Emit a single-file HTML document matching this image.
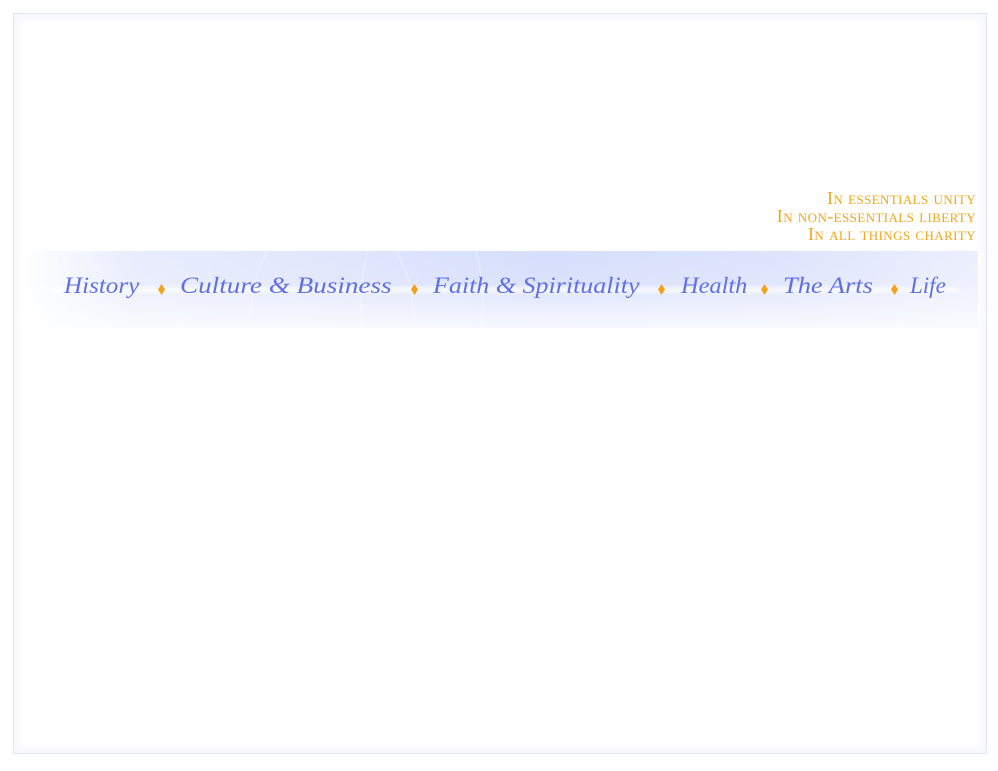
<!DOCTYPE html>
<html><head><meta charset="utf-8"><style>
html,body{margin:0;padding:0;background:#fff;width:998px;height:771px;overflow:hidden;position:relative;font-family:"Liberation Serif",serif}
.frame{position:absolute;left:13px;top:13px;width:972px;height:739px;border:1px solid #e2e6fb;box-shadow:inset 0 0 12px #f1f2f8;background:#fefefe}
.motto{position:absolute;right:22px;top:189px;text-align:right;color:#f5a61a;font-variant:small-caps;font-size:18px;line-height:18px;letter-spacing:0.4px}
.banner{position:absolute;left:20px;top:251px;width:958px;height:77px;
background:linear-gradient(90deg,rgba(255,255,255,1) 0%,rgba(232,236,253,1) 12%,rgba(223,229,252,1) 35%,rgba(214,222,252,1) 55%,rgba(222,228,252,1) 80%,rgba(236,239,253,1) 100%);overflow:hidden}
.banner:after{content:"";position:absolute;left:0;top:0;right:0;bottom:0;background:linear-gradient(180deg,rgba(255,255,255,0) 0%,rgba(255,255,255,0.1) 40%,rgba(255,255,255,0.8) 100%)}
.glow{position:absolute;left:30px;right:20px;top:37px;height:4px;background:#fff;filter:blur(2px);z-index:1}
.nav{position:absolute;left:44px;top:22px;z-index:2;color:#5f6fe6;font-style:italic;font-size:23px;white-space:nowrap}
.nav span{position:absolute;top:0;transform-origin:left center}
.d{position:absolute;z-index:3;width:7px;height:11px;background:#f5a11a;clip-path:polygon(50% 0,100% 50%,50% 100%,0 50%);top:33px}
.wave{position:absolute;border-radius:50%;border:2px solid rgba(255,255,255,0.25);z-index:0}
</style></head><body>
<div class="frame"></div>
<div class="motto">In essentials unity<br>In non-essentials liberty<br>In all things charity</div>
<div class="banner">
<div class="wave" style="left:230px;top:-40px;width:160px;height:200px"></div>
<div class="wave" style="left:340px;top:-60px;width:120px;height:220px"></div>
<div class="glow"></div>
<div class="nav">
<span style="left:0;transform:scaleX(1.09)">History</span>
<span style="left:116px;transform:scaleX(1.18)">Culture &amp; Business</span>
<span style="left:369px;transform:scaleX(1.13)">Faith &amp; Spirituality</span>
<span style="left:617px;transform:scaleX(1.06)">Health</span>
<span style="left:719px;transform:scaleX(1.15)">The Arts</span>
<span style="left:846px">Life</span>
</div>
<div class="d" style="left:138px"></div>
<div class="d" style="left:391px"></div>
<div class="d" style="left:638px"></div>
<div class="d" style="left:741px"></div>
<div class="d" style="left:871px"></div>
</div>
</body></html>
